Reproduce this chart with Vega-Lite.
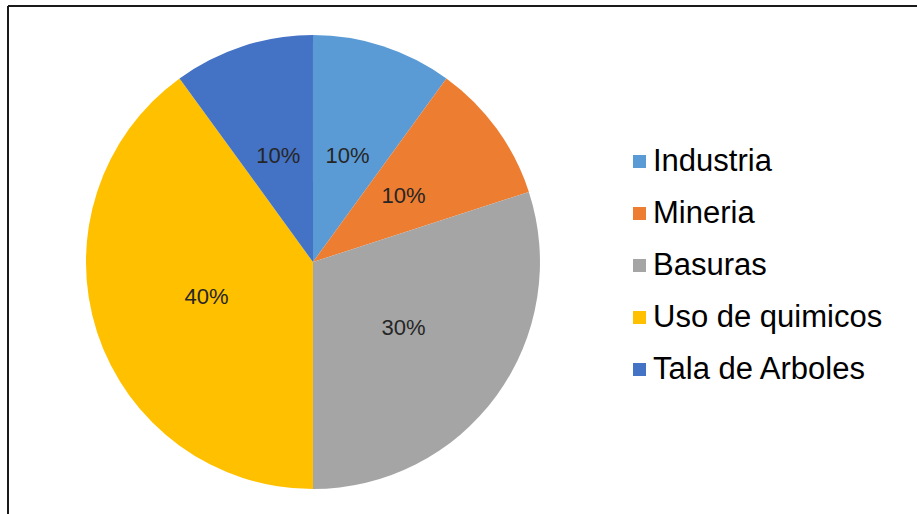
{
  "$schema": "https://vega.github.io/schema/vega-lite/v6.json",
  "autosize": {"type": "none"},
  "width": 909,
  "height": 508,
  "padding": {"left": 8, "top": 6, "right": 0, "bottom": 0},
  "background": "white",
  "config": {"view": {"stroke": null}},
  "layer": [
    {
      "data": {"values": [
        {"causa": "Industria", "porcentaje": 0.1, "orden": 1},
        {"causa": "Mineria", "porcentaje": 0.1, "orden": 2},
        {"causa": "Basuras", "porcentaje": 0.3, "orden": 3},
        {"causa": "Uso de quimicos", "porcentaje": 0.4, "orden": 4},
        {"causa": "Tala de Arboles", "porcentaje": 0.1, "orden": 5}
      ]},
      "encoding": {
        "theta": {"field": "porcentaje", "type": "quantitative", "stack": true},
        "order": {"field": "orden", "type": "quantitative"},
        "x": {"datum": 0.3355, "type": "quantitative", "scale": {"domain": [0, 1], "nice": false, "zero": false}, "axis": null},
        "y": {"datum": 0.496, "type": "quantitative", "scale": {"domain": [0, 1], "nice": false, "zero": false}, "axis": null},
        "color": {
          "field": "causa", "type": "nominal",
          "scale": {
            "domain": ["Industria", "Mineria", "Basuras", "Uso de quimicos", "Tala de Arboles"],
            "range": ["#5B9BD5", "#ED7D31", "#A5A5A5", "#FFC000", "#4472C4"]
          },
          "legend": {
            "title": null,
            "orient": "none",
            "legendX": 616,
            "legendY": 140,
            "symbolType": "square",
            "symbolSize": 169,
            "symbolStrokeWidth": 0,
            "symbolOpacity": 1,
            "labelFont": "Liberation Sans",
            "labelFontSize": 31,
            "labelColor": "#000000",
            "labelOffset": -2,
            "labelLimit": 400,
            "rowPadding": 20,
            "padding": 0
          }
        }
      },
      "layer": [
        {"mark": {"type": "arc", "outerRadius": 227}},
        {
          "mark": {"type": "text", "radius": 112, "font": "Liberation Sans", "fontSize": 22},
          "encoding": {
            "text": {"field": "porcentaje", "type": "quantitative", "format": ".0%"},
            "color": {"value": "#262626"}
          }
        }
      ]
    },
    {
      "data": {"values": [{}]},
      "mark": {"type": "rule", "color": "#1a1a1a", "strokeWidth": 2},
      "encoding": {
        "x": {"datum": 0, "type": "quantitative"},
        "x2": {"datum": 1},
        "y": {"datum": 1, "type": "quantitative"}
      }
    },
    {
      "data": {"values": [{}]},
      "mark": {"type": "rule", "color": "#1a1a1a", "strokeWidth": 2},
      "encoding": {
        "x": {"datum": 0, "type": "quantitative"},
        "y": {"datum": 0, "type": "quantitative"},
        "y2": {"datum": 1}
      }
    }
  ]
}
